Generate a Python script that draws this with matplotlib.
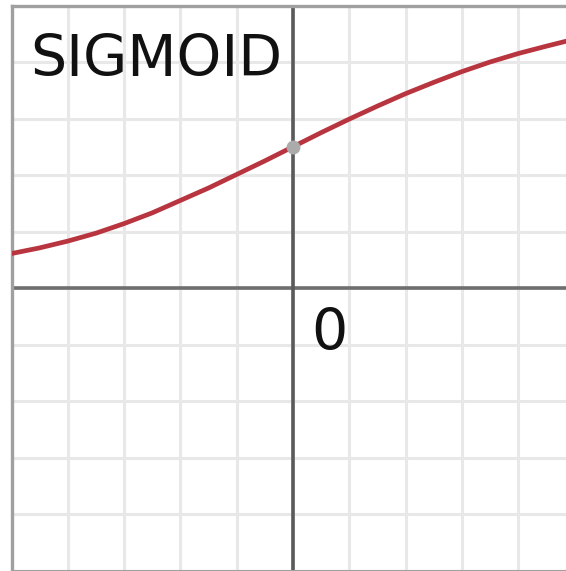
import numpy as np
import matplotlib
matplotlib.use("Agg")
from matplotlib import pyplot as plt

# sigmoid curve, read at half-unit steps
xs = [-5.0, -4.5, -4.0, -3.5, -3.0, -2.5, -2.0, -1.5, -1.0, -0.5, 0.0,
      0.5, 1.0, 1.5, 2.0, 2.5, 3.0, 3.5, 4.0, 4.5, 4.9]
ys = [0.61, 0.71, 0.83, 0.97, 1.14, 1.33, 1.55, 1.77, 2.01, 2.25, 2.50,
      2.75, 2.99, 3.22, 3.44, 3.64, 3.83, 4.00, 4.15, 4.28, 4.38]
dot = (0.0, 2.5)
title = "SIGMOID"
zero_label = "0"

W, H = 566, 571
fig = plt.figure(figsize=(W / 100, H / 100), dpi=100)
fig.patch.set_facecolor("white")

left, right = 11.5, 566.0
top, bot = 5.5, 570.5
ax = fig.add_axes([left / W, (H - bot) / H, (right - left) / W, (bot - top) / H])
ax.set_xlim(-5, -5 + (right - left) / 56.3)
ax.set_ylim(-5, 5)

ax.set_xticks(np.arange(-5, 5))
ax.set_yticks(np.arange(-5, 6))
ax.grid(True, color="#e8e8e8", lw=2.2)
ax.tick_params(length=0, labelleft=False, labelbottom=False)
ax.set_axisbelow(True)

for s in ["left", "top"]:
    ax.spines[s].set_color("#a0a0a0")
    ax.spines[s].set_linewidth(2.4)
ax.spines["bottom"].set_color("#a0a0a0")
ax.spines["bottom"].set_linewidth(1.5)
ax.spines["right"].set_visible(False)

ax.axhline(0, color="#6e6e6e", lw=2.6, zorder=2)
ax.axvline(0, color="#5a5a5a", lw=2.6, zorder=2)

ax.plot(xs, ys, color="#b83540", lw=3.4, solid_capstyle="butt",
        solid_joinstyle="round", zorder=3)
ax.plot([dot[0]], [dot[1]], "o", color="#ababab", ms=9, zorder=4)

fig.text(30 / W, (H - 76) / H, title, fontsize=41, color="#111111",
         va="baseline", ha="left", family="DejaVu Sans")
fig.text(311 / W, (H - 350) / H, zero_label, fontsize=41, color="#111111",
         va="baseline", ha="left", family="DejaVu Sans")

fig.savefig("out.png", dpi=100, facecolor="white")
